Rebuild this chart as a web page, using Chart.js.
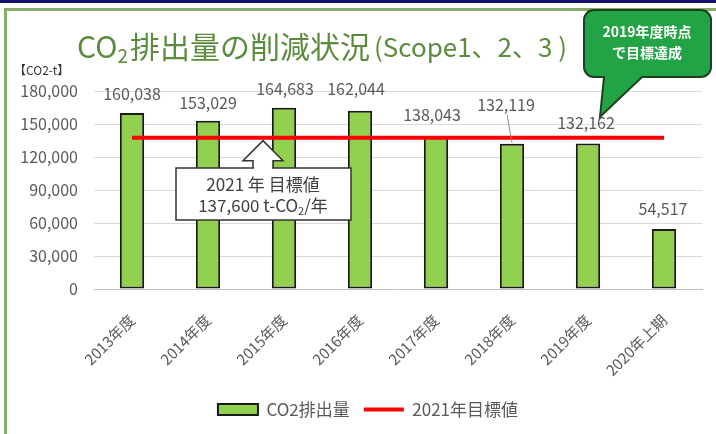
<!DOCTYPE html>
<html>
<head>
<meta charset="utf-8">
<script src="https://cdn.jsdelivr.net/npm/chart.js@4.4.0/dist/chart.umd.min.js"></script>
<style>
    html, body { margin: 0; padding: 0; background: #fff; }
    #wrap { width: 716px; height: 434px; position: relative; }
</style>
</head>
<body>
<div id="wrap"><canvas id="co2Chart"></canvas></div>
<script>
// Datos
const categories = ['2013年度', '2014年度', '2015年度', '2016年度', '2017年度', '2018年度', '2019年度', '2020年上期'];
const emissions = [160038, 153029, 164683, 162044, 138043, 132119, 132162, 54517];
const targetLine = [137600, 137600, 137600, 137600, 137600, 137600, 137600, 137600];
const yTickValues = [0, 30000, 60000, 90000, 120000, 150000, 180000];

const FONT = "'Noto Sans CJK JP', 'Noto Sans', sans-serif";
const GRAY = '#595959';

// Marco y título
const framePlugin = {
    id: 'frame',
    afterLayout(chart) {
        // desplazar la leyenda un poco a la derecha
        if (chart.legend) {
            chart.legend.left += 17;
            chart.legend.right += 17;
        }
    },
    beforeDraw(chart) {
        const ctx = chart.ctx;
        ctx.save();
        ctx.fillStyle = '#fff';
        ctx.fillRect(0, 0, chart.width, chart.height);
        ctx.fillStyle = '#14146e';
        ctx.fillRect(0, 0, chart.width, 3);
        ctx.strokeStyle = '#84ac6a';
        ctx.lineWidth = 3;
        ctx.beginPath();
        ctx.moveTo(5.5, chart.height);
        ctx.lineTo(5.5, 9.5);
        ctx.lineTo(chart.width, 9.5);
        ctx.stroke();

        // Titulo
        ctx.fillStyle = '#5b8c3d';
        ctx.textBaseline = 'alphabetic';
        ctx.font = `30px ${FONT}`;
        let x = 77;
        const y = 58;
        ctx.fillText('CO', x, y);
        x += ctx.measureText('CO').width;
        ctx.font = `19px ${FONT}`;
        ctx.fillText('2', x, y + 5);
        x += ctx.measureText('2').width + 2;
        ctx.font = `30px ${FONT}`;
        ctx.fillText('排出量の削減状況', x, y);
        x += ctx.measureText('排出量の削減状況').width + 4;
        ctx.font = `26px ${FONT}`;
        ctx.fillText('(Scope1、2、3 )', x, y - 1);

        ctx.fillStyle = '#333';
        ctx.font = `12px ${FONT}`;
        ctx.fillText('【CO2-t】', 14, 75);
        ctx.restore();
    }
};

// Etiquetas de valores
const valueLabelsPlugin = {
    id: 'valueLabels',
    afterDatasetsDraw(chart, args, opts) {
        const ctx = chart.ctx;
        const meta = chart.getDatasetMeta(0);
        ctx.save();
        ctx.font = `16px ${FONT}`;
        ctx.fillStyle = GRAY;
        ctx.textAlign = 'center';
        ctx.textBaseline = 'middle';
        meta.data.forEach((bar, i) => {
            const lx = bar.x + opts.dx[i];
            const ly = bar.y - opts.rise[i];
            ctx.fillText(emissions[i].toLocaleString('en-US'), lx, ly);
            if (opts.leader[i]) {
                ctx.strokeStyle = '#8c8c8c';
                ctx.lineWidth = 1;
                ctx.beginPath();
                ctx.moveTo(lx + 1, ly + 10);
                ctx.lineTo(bar.x, bar.y - 1);
                ctx.stroke();
            }
        });
        ctx.restore();
    }
};

// Anotaciones: caja del objetivo y globo
const notesPlugin = {
    id: 'notes',
    afterDraw(chart) {
        const ctx = chart.ctx;
        const yScale = chart.scales.y;
        const tipY = yScale.getPixelForValue(targetLine[0]) + 3;
        const cx = 263;
        ctx.save();

        // Flecha hacia arriba
        ctx.fillStyle = '#fff';
        ctx.strokeStyle = '#333';
        ctx.lineWidth = 1.5;
        ctx.beginPath();
        ctx.moveTo(cx, tipY);
        ctx.lineTo(cx + 20, tipY + 20);
        ctx.lineTo(cx + 10, tipY + 20);
        ctx.lineTo(cx + 10, 169);
        ctx.lineTo(cx - 10, 169);
        ctx.lineTo(cx - 10, tipY + 20);
        ctx.lineTo(cx - 20, tipY + 20);
        ctx.closePath();
        ctx.fill();
        ctx.stroke();

        // Caja
        ctx.fillRect(176, 168, 175, 52);
        ctx.strokeRect(176, 168, 175, 52);
        ctx.fillRect(cx - 9, 166, 18, 4);

        ctx.fillStyle = '#404040';
        ctx.textBaseline = 'middle';
        ctx.textAlign = 'center';
        ctx.font = `17px ${FONT}`;
        ctx.fillText('2021 年 目標値', cx, 185);
        // segunda línea con subíndice
        const p1 = '137,600 t-CO', p2 = '2', p3 = '/年';
        const w1 = ctx.measureText(p1).width, w3 = ctx.measureText(p3).width;
        ctx.font = `11px ${FONT}`;
        const w2 = ctx.measureText(p2).width;
        let x = cx - (w1 + w2 + w3) / 2;
        ctx.textAlign = 'left';
        ctx.font = `17px ${FONT}`;
        ctx.fillText(p1, x, 206);
        x += w1;
        ctx.font = `11px ${FONT}`;
        ctx.fillText(p2, x, 211);
        x += w2;
        ctx.font = `17px ${FONT}`;
        ctx.fillText(p3, x, 206);

        // Globo verde
        const x0 = 584, y0 = 10, x1 = 711, y1 = 77, r = 10;
        ctx.beginPath();
        ctx.moveTo(x0 + r, y0);
        ctx.lineTo(x1 - r, y0);
        ctx.arcTo(x1, y0, x1, y0 + r, r);
        ctx.lineTo(x1, y1 - r);
        ctx.arcTo(x1, y1, x1 - r, y1, r);
        ctx.lineTo(642, y1);
        ctx.lineTo(600, 117);
        ctx.lineTo(604, y1);
        ctx.lineTo(x0 + r, y1);
        ctx.arcTo(x0, y1, x0, y1 - r, r);
        ctx.lineTo(x0, y0 + r);
        ctx.arcTo(x0, y0, x0 + r, y0, r);
        ctx.closePath();
        ctx.fillStyle = '#22a346';
        ctx.fill();
        ctx.strokeStyle = '#1e3f20';
        ctx.lineWidth = 2;
        ctx.stroke();

        ctx.fillStyle = '#fff';
        ctx.textAlign = 'center';
        ctx.font = `bold 14px ${FONT}`;
        ctx.fillText('2019年度時点', 647, 32);
        ctx.fillText('で目標達成', 647, 53);
        ctx.restore();
    }
};

const ctx = document.getElementById('co2Chart');
new Chart(ctx, {
    type: 'bar',
    data: {
        labels: categories,
        datasets: [{
            label: 'CO2排出量',
            data: emissions,
            backgroundColor: '#92d050',
            borderColor: '#1a1a1a',
            borderWidth: 2,
            borderSkipped: false,
            barPercentage: 0.32,
            categoryPercentage: 1,
            pointStyle: 'rect',
            order: 1
        }, {
            type: 'line',
            label: '2021年目標値',
            data: targetLine,
            borderColor: '#ff0000',
            backgroundColor: '#ff0000',
            borderWidth: 4,
            pointRadius: 0,
            pointStyle: 'line',
            order: 0
        }]
    },
    options: {
        responsive: true,
        maintainAspectRatio: false,
        animation: false,
        layout: { padding: { top: 91, left: 0, right: 14, bottom: 6 } },
        plugins: {
            legend: {
                position: 'bottom',
                labels: {
                    usePointStyle: true,
                    pointStyleWidth: 40,
                    boxHeight: 11,
                    padding: 14,
                    color: GRAY,
                    font: { family: FONT, size: 17 },
                    sort: (a, b) => a.datasetIndex - b.datasetIndex
                }
            },
            tooltip: { enabled: false },
            valueLabels: {
                rise: [19, 18, 19, 22, 22, 39, 21, 20],
                dx: [0, 0, 1, -4, -4, -6, -2, -1],
                leader: [false, false, false, false, false, true, false, false]
            }
        },
        scales: {
            x: {
                grid: { display: false },
                border: { color: '#bfbfbf' },
                ticks: {
                    color: GRAY,
                    padding: 14,
                    font: { family: FONT, size: 15 },
                    minRotation: 45,
                    maxRotation: 45,
                    autoSkip: false
                },
                afterFit(scale) { scale.height = 98; }
            },
            y: {
                min: 0,
                max: 180000,
                border: { display: false },
                grid: { color: '#d9d9d9', drawTicks: false },
                afterBuildTicks(scale) { scale.ticks = yTickValues.map(v => ({ value: v })); },
                ticks: {
                    color: GRAY,
                    padding: 16,
                    font: { family: FONT, size: 16 },
                    callback: v => v.toLocaleString('en-US')
                },
                afterFit(scale) { scale.width = 94; }
            }
        }
    },
    plugins: [framePlugin, valueLabelsPlugin, notesPlugin]
});
</script>
</body>
</html>
